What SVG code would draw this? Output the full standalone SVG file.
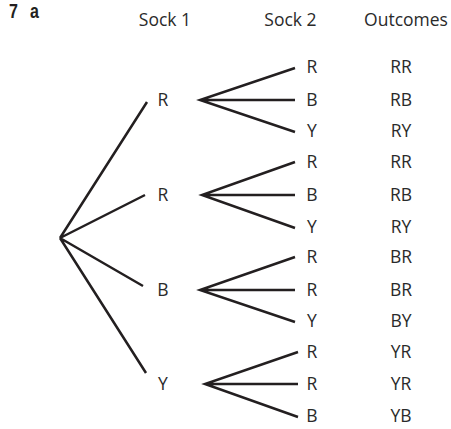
<svg xmlns="http://www.w3.org/2000/svg" width="451" height="429" viewBox="0 0 451 429">
<style>
.t{font-family:"Open Sans","Liberation Sans",sans-serif;font-size:17.5px;fill:#2a2a2a;text-anchor:middle}
.h{font-family:"Open Sans","Liberation Sans",sans-serif;font-size:17.5px;fill:#2a2a2a;text-anchor:middle}
.e{stroke:#231f20;stroke-width:2.5;fill:none;stroke-linecap:butt}
.q{font-family:"Liberation Sans",sans-serif;font-weight:bold;font-size:20px;fill:#231f20}
</style>
<rect width="451" height="429" fill="#fff"/>
<g id="title"><text class="q" transform="translate(9,18) scale(0.8,1)">7</text><text class="q" transform="translate(30,18) scale(0.8,1)">a</text></g>
<g id="headers">
<text class="h" x="165" y="26">Sock 1</text>
<text class="h" x="290.5" y="26">Sock 2</text>
<text class="h" x="406" y="26">Outcomes</text>
</g>
<g id="connectors">
<path class="e" d="M60,238L147,102M60,238L145,195M60,238L143,286M60,238L146,373"/>
<path class="e" d="M295,68L200,100L295,132M200,100H295"/>
<path class="e" d="M295,162L202,195L295,228M202,195H295"/>
<path class="e" d="M295,257L200,290L295,322M200,290H295"/>
<path class="e" d="M298,352L205,384L298,417M205,384H298"/>
</g>
<g id="sock1">
<text class="t" x="163" y="106">R</text>
<text class="t" x="163" y="201">R</text>
<text class="t" x="163" y="296">B</text>
<text class="t" x="163" y="390">Y</text>
</g>
<g id="sock2">
<text class="t" x="312" y="73">R</text>
<text class="t" x="312" y="106">B</text>
<text class="t" x="312" y="137">Y</text>
<text class="t" x="312" y="168">R</text>
<text class="t" x="312" y="201">B</text>
<text class="t" x="312" y="233">Y</text>
<text class="t" x="312" y="263">R</text>
<text class="t" x="312" y="296">R</text>
<text class="t" x="312" y="327">Y</text>
<text class="t" x="312" y="358">R</text>
<text class="t" x="312" y="390">R</text>
<text class="t" x="312" y="422">B</text>
</g>
<g id="outcomes">
<text class="t" x="401" y="73">RR</text>
<text class="t" x="401" y="106">RB</text>
<text class="t" x="401" y="137">RY</text>
<text class="t" x="401" y="168">RR</text>
<text class="t" x="401" y="201">RB</text>
<text class="t" x="401" y="233">RY</text>
<text class="t" x="401" y="263">BR</text>
<text class="t" x="401" y="296">BR</text>
<text class="t" x="401" y="327">BY</text>
<text class="t" x="401" y="358">YR</text>
<text class="t" x="401" y="390">YR</text>
<text class="t" x="401" y="422">YB</text>
</g>
</svg>
